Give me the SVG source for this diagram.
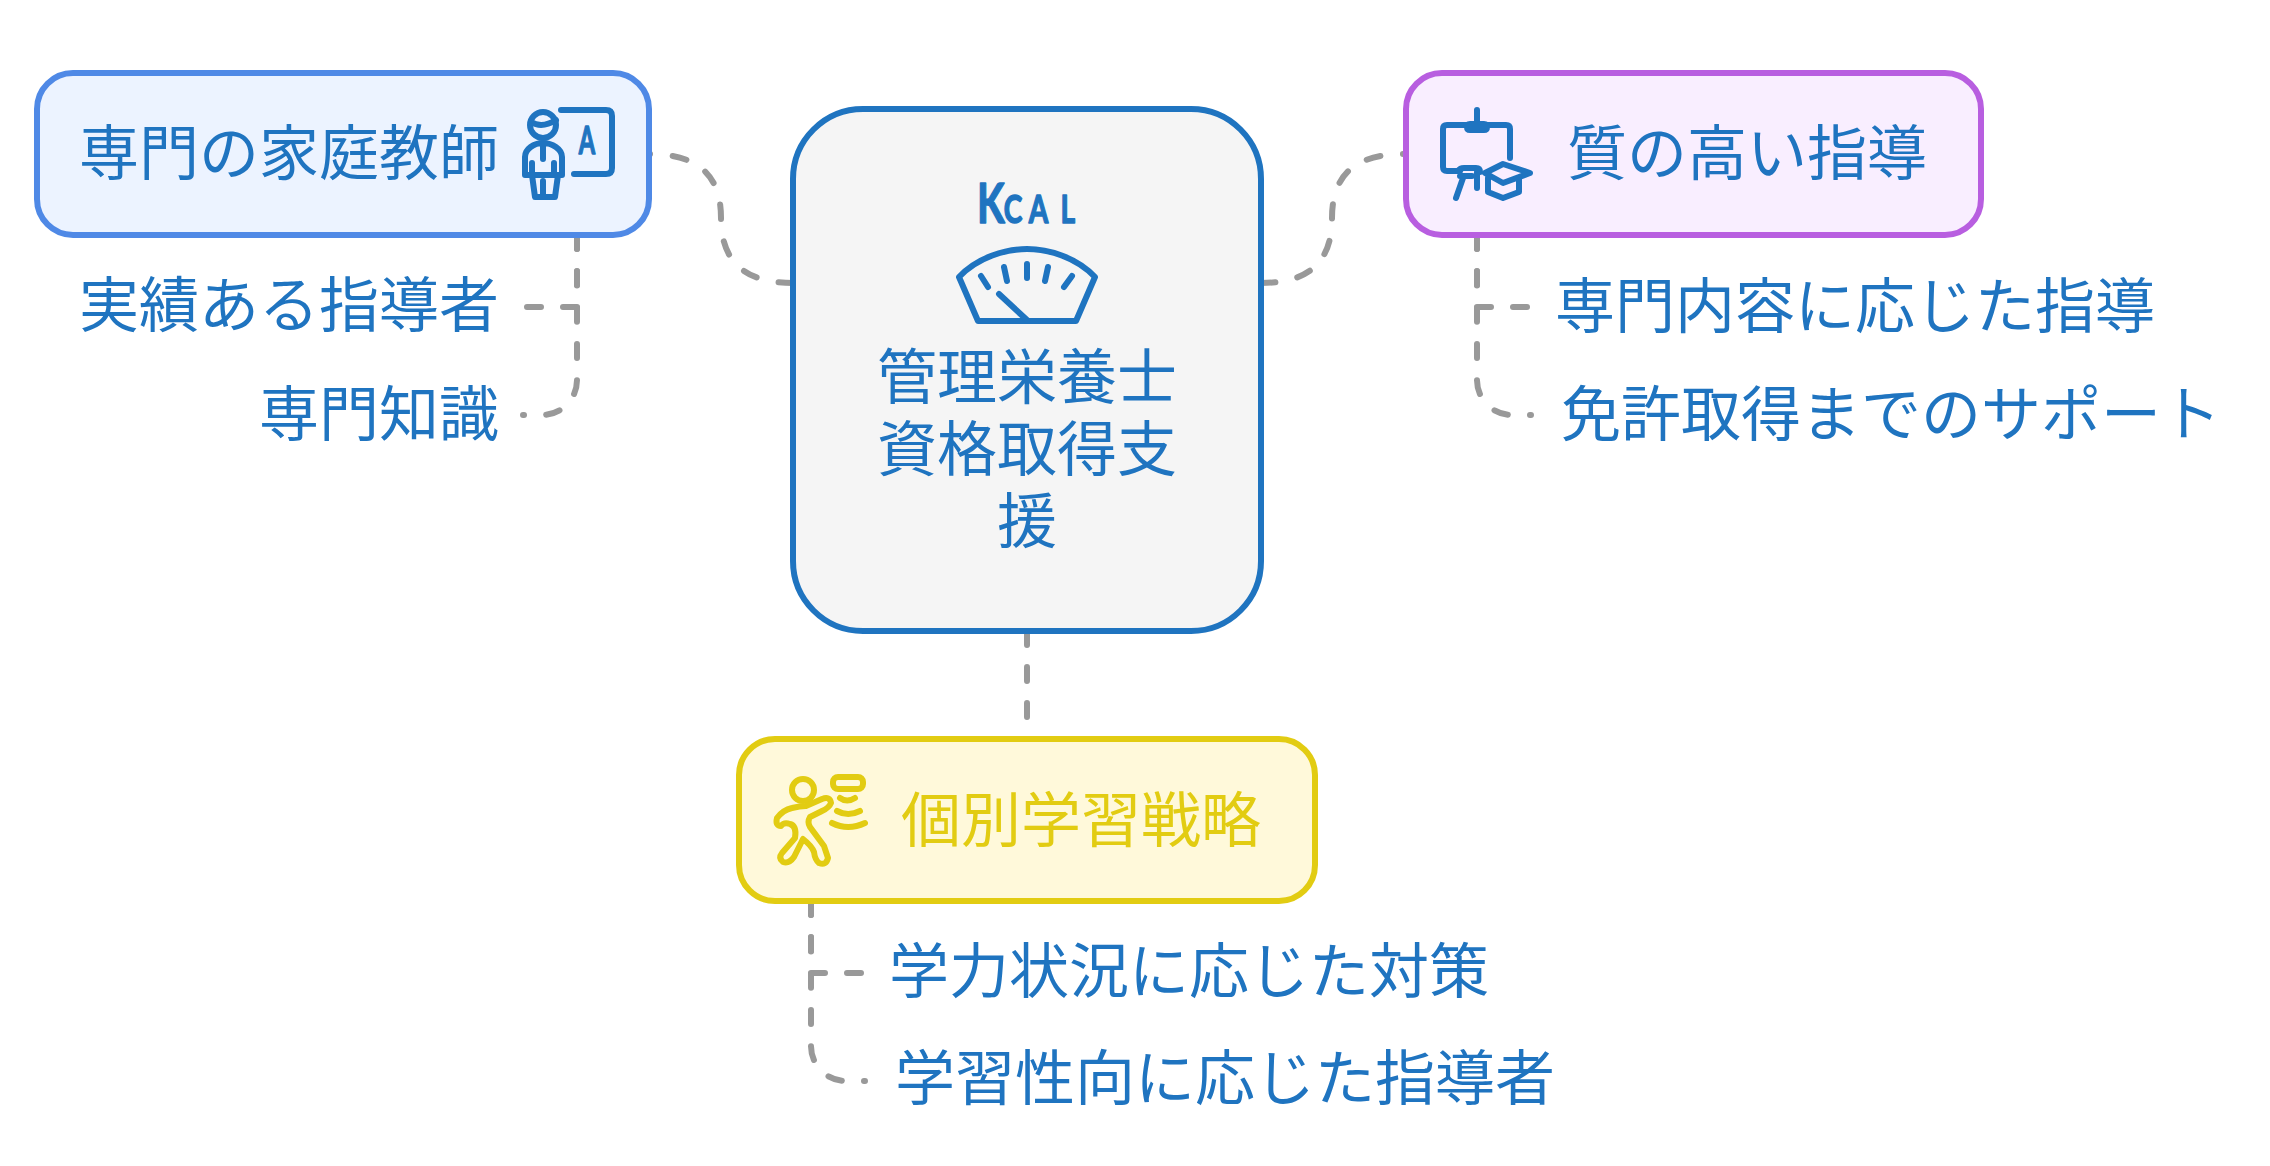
<svg xmlns="http://www.w3.org/2000/svg" width="2270" height="1166" viewBox="0 0 2270 1166">
<style>
text{font-family:"Noto Sans CJK JP","Noto Sans",sans-serif;font-size:60px;fill:#1f74c0}
.e{text-anchor:end}.m{text-anchor:middle}
.c{fill:none;stroke:#999;stroke-width:6;stroke-linecap:round;stroke-dasharray:14 22}
.n{stroke-width:6}
.i{fill:none;stroke:#1f74c0;stroke-width:6;stroke-linecap:round;stroke-linejoin:round}
.y{stroke:#e2cc12}
.g{font-family:"Lato",sans-serif;font-weight:700;stroke:#1f74c0;stroke-width:1.5;stroke-linejoin:round}
</style>
<rect width="2270" height="1166" fill="#fff"/>
<g id="connectors">
<path class="c" pathLength="217" d="M793,283C745,283 721,262 721,218C721,175 698,154 649,154"/>
<path class="c" pathLength="217" d="M1261,283C1309,283 1332,262 1332,218C1332,175 1355,154 1404,154"/>
<path class="c" d="M1027,631V722"/>
<path class="c" d="M527,307H577V235"/>
<path class="c" pathLength="217" d="M577,235V380A35,35 0 0 1 542,415H523"/>
<path class="c" d="M1527,307H1477V235"/>
<path class="c" pathLength="217" d="M1477,235V380A35,35 0 0 0 1512,415H1531"/>
<path class="c" d="M861,973H811V901"/>
<path class="c" pathLength="217" d="M811,901V1046A35,35 0 0 0 846,1081H865"/>
</g>
<g id="center">
<rect class="n" x="793" y="109" width="468" height="522" rx="70" fill="#f5f5f5" stroke="#1f74c0"/>
<text class="g" transform="translate(977,223) scale(.72,1)"><tspan style="font-size:56px">K</tspan><tspan x="37" style="font-size:39px">C</tspan><tspan x="72" style="font-size:39px">A</tspan><tspan x="116" style="font-size:39px">L</tspan></text>
<g class="i">
<path d="M959,277C978,257 1006,249 1027,249C1048,249 1076,257 1095,277L1076,321H978Z"/>
<path d="M981,276L988,287M1004,267L1007,281M1027,264V278M1048,267L1045,281M1072,276L1064,287M999,294L1027,320"/>
</g>
<text class="m" y="399"><tspan x="1027">管理栄養士</tspan><tspan x="1027" dy="72">資格取得支</tspan><tspan x="1027" dy="72">援</tspan></text>
</g>
<g id="tutor">
<rect class="n" x="37" y="73" width="612" height="162" rx="36" fill="#ecf3ff" stroke="#4f89e6"/>
<text x="79" y="175">専門の家庭教師</text>
<g class="i">
<circle cx="543" cy="125" r="13"/>
<path d="M531,122C539,127 548,125 556,120"/>
<path d="M525,175V157C525,149 534,143 543,143C552,143 562,149 562,157V175ZM543,145V159M532,163V175M554,163V175M532,175L535,197H555L558,175M543,181V197"/>
<path d="M561,110H606Q612,110 612,116V168Q612,174 606,174H574"/>
</g>
<text class="g" transform="translate(587,154) scale(.62,1)" text-anchor="middle" style="font-size:38px">A</text>
</g>
<text x="79" y="327">実績ある指導者</text>
<text class="e" x="499" y="436">専門知識</text>
<g id="quality">
<rect class="n" x="1406" y="73" width="575" height="162" rx="36" fill="#f9eeff" stroke="#b85ee0"/>
<text x="1567" y="175">質の高い指導</text>
<g class="i">
<path d="M1477,110V122M1470,124H1484Q1487,124 1487,127Q1487,130 1484,130H1470Q1467,130 1467,127Q1467,124 1470,124ZM1467,125H1447Q1443,125 1443,129V167Q1443,171 1447,171H1460M1510,158V129Q1510,125 1506,125H1487"/>
<path d="M1458,171Q1460,168 1464,168H1476Q1480,168 1480,172M1460,176H1472M1463,178L1456,198M1477,172V188"/>
<path d="M1485,173L1503,164L1530,173L1503,183ZM1488,178V192L1503,198L1519,192V178"/>
</g>
</g>
<text x="1555" y="328">専門内容に応じた指導</text>
<text x="1561" y="436">免許取得までのサポート</text>
<g id="strategy">
<rect class="n" x="739" y="739" width="576" height="162" rx="36" fill="#fff9da" stroke="#e2cc12"/>
<text style="fill:#e2cc12" x="901" y="842">個別学習戦略</text>
<g class="i y">
<circle cx="803" cy="790" r="11"/>
<path d="M777,818Q783,810 792,808Q800,806 806,806L822,799Q830,796 831,803Q829,808 822,811L810,817Q807,822 810,827L824,846L828,858Q826,866 819,863Q815,860 814,852Q812,846 803,839L794,857Q789,864 783,862Q778,858 782,853L795,838Q797,826 790,824Q784,822 781,826Q775,826 777,818Z"/>
<rect x="833" y="777" width="30" height="12" rx="5"/>
<path d="M840,798Q847,803 855,798M837,811Q848,817 860,811M832,823Q848,831 865,823"/>
</g>
</g>
<text x="889" y="993">学力状況に応じた対策</text>
<text x="895" y="1100">学習性向に応じた指導者</text>
</svg>
